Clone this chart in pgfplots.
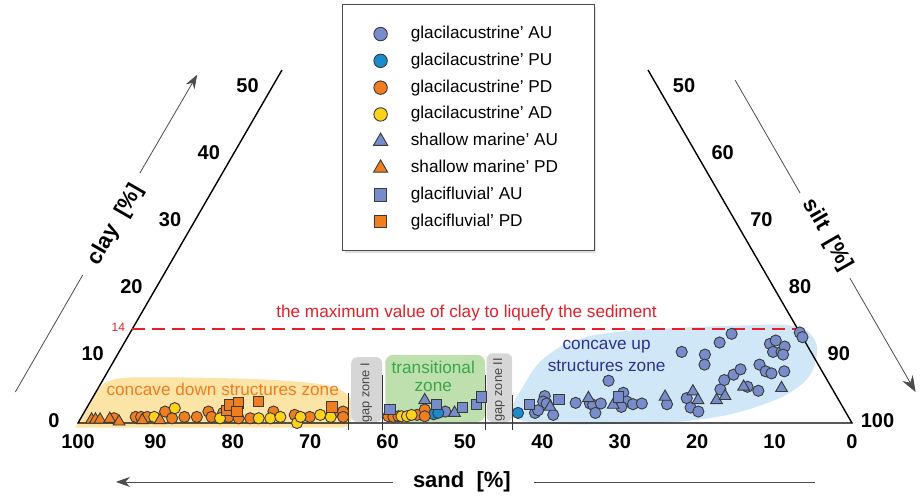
\documentclass[border=0pt]{standalone}
\usepackage{fontspec}
\setmainfont{Liberation Sans}
\usepackage{pgfplots}
\usepackage{pgfplotstable}
\pgfplotsset{compat=1.18}
\usetikzlibrary{arrows.meta,shadows}

\definecolor{auBlue}{HTML}{778DCB}
\definecolor{puBlue}{HTML}{1B8BCF}
\definecolor{pdOrange}{HTML}{F07E1E}
\definecolor{adYellow}{HTML}{FFD21A}
\definecolor{edge}{HTML}{3A3A3A}
\definecolor{zoneYellow}{HTML}{FCE3A6}
\definecolor{zoneGreen}{HTML}{BEDFAE}
\definecolor{zoneBlue}{HTML}{CFE7F7}
\definecolor{zoneGray}{HTML}{D6D6D6}
\definecolor{txtOrange}{HTML}{F07E1E}
\definecolor{txtGreen}{HTML}{3AA848}
\definecolor{txtBlue}{HTML}{2E3192}
\definecolor{limRed}{HTML}{E5202A}

% sample compositions: sand and clay in per cent (silt = 100 - sand - clay)
\pgfplotstableread{
sand clay
51.7 1.7
40.2 1.5
39.6 1.9
37.7 4.0
38.3 3.2
38.0 2.9
38.0 1.2
34.2 3.0
32.4 2.9
32.1 2.7
32.4 1.5
31.0 2.9
28.3 6.3
27.3 4.5
27.5 3.2
28.6 2.4
26.9 2.8
25.7 2.9
22.5 2.8
16.7 10.6
19.5 3.7
19.7 2.3
19.0 1.7
13.9 10.2
14.7 8.7
11.1 12.0
8.9 13.3
14.5 5.0
13.3 6.4
11.7 7.2
10.4 8.0
10.8 5.4
9.7 4.8
7.6 8.7
7.3 7.7
6.7 7.4
4.9 7.7
4.7 11.8
3.7 12.3
4.9 10.6
3.8 10.6
3.0 11.4
3.8 10.2
0.0 13.5
0.0 12.8
}\glAU

\pgfplotstableread{
sand clay
53.4 1.3
52.7 1.5
42.4 1.5
}\glPU

\pgfplotstableread{
sand clay
95.0 0.7
92.1 0.9
91.4 0.9
90.6 0.9
87.9 1.7
87.5 0.7
85.8 0.9
84.2 0.9
82.3 1.7
82.3 0.9
80.5 1.5
80.1 0.9
78.9 0.7
77.4 0.7
73.9 1.7
71.4 1.2
69.6 0.9
66.3 1.5
64.9 1.7
65.3 0.9
59.4 1.0
58.8 0.9
58.1 1.0
55.6 1.2
54.2 2.0
54.7 1.0
}\glPD

\pgfplotstableread{
sand clay
89.7 0.9
86.4 2.2
81.3 0.7
76.3 0.7
74.8 0.7
73.4 0.9
71.7 0.0
70.8 0.9
68.1 1.2
66.9 0.9
57.7 1.0
57.0 1.0
56.3 1.2
}\glAD

\pgfplotstableread{
sand clay
53.5 3.4
50.6 1.5
37.8 2.4
32.2 3.7
29.5 2.7
22.2 3.9
18.2 4.7
18.2 3.4
15.8 3.4
14.4 4.0
11.3 5.4
6.5 5.2
}\smAU

\pgfplotstableread{
sand clay
98.0 0.5
97.5 0.5
96.9 0.5
95.6 0.6
94.6 0.2
91.5 0.4
89.2 0.4
}\smPD

\pgfplotstableread{
sand clay
58.7 2.0
52.3 2.8
49.2 2.3
47.1 2.8
45.9 3.9
40.3 2.8
36.1 3.5
28.2 3.9
}\gfAU

\pgfplotstableread{
sand clay
79.8 1.9
79.0 2.7
77.8 3.0
78.6 1.7
75.1 3.2
66.0 2.4
}\gfPD

% ternary placement: horizontal = sand + clay/2 (reversed axis), vertical = clay * sin 60
\pgfplotsset{
  /pgfplots/table/tern/.style={x expr=\thisrow{sand}+0.5*\thisrow{clay}, y expr=0.8660254*\thisrow{clay}},
  pt/.style={only marks, draw=edge, line width=0.45pt},
}

\begin{document}
\begin{tikzpicture}[
  ticklab/.style={font=\bfseries\fontsize{10}{12}\selectfont},
  axtitle/.style={font=\bfseries\fontsize{11}{13}\selectfont},
  zonetxt/.style={font=\fontsize{8.6}{10.5}\selectfont, align=center},
  gaptxt/.style={black!72, rotate=90, font=\fontsize{6.4}{7}\selectfont},
  guide/.style={draw=black!70, line width=0.4pt},
]
\begin{axis}[
  x=3.87pt, y=3.87pt, x dir=reverse,
  xmin=-8.79, xmax=110.08, ymin=-9.56, ymax=54.65,
  enlargelimits=false, hide axis, clip=false, set layers,
  legend cell align=left,
  legend image code/.code={\draw[mark repeat=1,#1,mark options={scale=1.2}] plot coordinates {(0pt,0pt)};},
  legend style={
    at={(axis cs:65.9,54.1)}, anchor=north west,
    draw=black!70, line width=0.6pt, fill=white,
    font=\fontsize{8.6}{10}\selectfont,
    inner xsep=15.5pt, inner ysep=7.9pt, row sep=0pt,
    nodes={text height=6.3pt, text depth=1.9pt, inner sep=2.6pt},
    /tikz/every odd column/.append style={column sep=9pt},
    drop shadow={shadow xshift=1pt, shadow yshift=-1pt, opacity=0.25},
  },
]

% structure zones
\begin{pgfonlayer}{axis background}
  \fill[zoneYellow] (100.35,-0.6) -- (97.63,4.1) .. controls (96.6,5.6) and (95,5.9) .. (92,5.9)
     .. controls (80,5.9) and (72,5.6) .. (68,4.9) .. controls (65.5,4.4) and (64.5,3.4) .. (64.5,1.8)
     .. controls (64.5,0) and (65,-0.6) .. (66,-0.6) -- cycle;
  \fill[zoneBlue] plot[smooth cycle, tension=0.7] coordinates {(43.8,1.2) (42.2,5.2) (39.5,8.6) (35,10.9)
     (29,11.9) (22,12.3) (14,12.6) (8,12.6) (5.2,11.3) (4.6,8.5) (6.5,5) (12,2.2) (20,0.4) (30,-0.1) (40,0.0)};
  \fill[zoneGreen, rounded corners=4pt] (60.3,0.13) rectangle (47.4,8.8);
  \fill[zoneGray, rounded corners=3pt] (64.7,0.13) rectangle (60.7,8.5);
  \fill[zoneGray, rounded corners=3pt] (47.2,0.13) rectangle (43.9,9.0);
\end{pgfonlayer}

% triangle frame (open above 50 % clay)
\draw[line width=0.7pt] (73.65,45.6) -- (100,0) -- (0,0) -- (26.35,45.6);

% gap-zone boundaries
\draw[black!80, line width=0.5pt] (65.0,3.9) -- (65.0,-0.9);
\draw[black!80, line width=0.5pt] (60.6,6.2) -- (60.6,-0.9);
\draw[black!80, line width=0.5pt] (47.3,6.2) -- (47.3,-0.9);
\draw[black!80, line width=0.5pt] (43.8,3.6) -- (43.8,-0.9);

% liquefaction limit at 14 % clay
\draw[limRed, line width=1pt, dash pattern=on 6.5pt off 3.5pt] (93,12.12) -- (7,12.12);
\node[limRed, font=\fontsize{6}{7}\selectfont] at (94.8,12.4) {14};
\node[limRed, zonetxt] at (49.8,14.2) {the maximum value of clay to liquefy the sediment};

% zone labels
\node[txtOrange, zonetxt] at (81.3,4.4) {concave down structures zone};
\node[txtGreen, zonetxt] at (54.1,7.2) {transitional};
\node[txtGreen, zonetxt] at (54.1,4.65) {zone};
\node[txtBlue, zonetxt] at (31.7,9.86) {concave up};
\node[txtBlue, zonetxt] at (31.7,7.36) {structures zone};
\node[gaptxt] at (62.75,3.9) {gap zone I};
\node[gaptxt] at (45.6,4.3) {gap zone II};

% tick labels on the three sides
\pgfplotsinvokeforeach{0,10,...,100}{\node[ticklab] at (axis cs:#1,-2.4) {#1};}
\pgfplotsinvokeforeach{0,10,...,50}{\node[ticklab] at (axis cs:{103.1-#1/2},{0.8660254*#1+0.3}) {#1};}
\pgfplotsinvokeforeach{50,60,...,100}{\node[ticklab] at (axis cs:{(100-#1)/2-3.3},{0.8660254*(100-#1)+0.3}) {#1};}

% axis titles with direction arrows
\node[axtitle] at (50.4,-7.62) {sand\ \ [\%]};
\draw[guide] (4.8,-7.62) -- (41.1,-7.62);
\draw[guide, -{Stealth[length=7pt, width=5pt]}] (59.3,-7.62) -- (95.1,-7.62);
\node[axtitle, rotate=60] at (95.1,25.6) {clay\ \ [\%]};
\draw[guide] (108.1,4.0) -- (99.4,19.1);
\draw[guide, -{Stealth[length=7pt, width=5pt]}] (92.0,32.3) -- (84.6,45.0);
\node[axtitle, rotate=-60] at (3.17,24.3) {silt\ \ [\%]};
\draw[guide] (15.1,44.3) -- (6.7,29.7);
\draw[guide, -{Stealth[length=8pt, width=6pt]}] (0.26,18.7) -- (-8.22,4.0);

% samples
\addplot[pt, mark=*, mark size=2.8pt, fill=auBlue] table[tern] {\glAU};
\addlegendentry{glacilacustrine' AU}
\addplot[pt, mark=*, mark size=2.8pt, fill=puBlue] table[tern] {\glPU};
\addlegendentry{glacilacustrine' PU}
\addplot[pt, mark=*, mark size=2.8pt, fill=pdOrange] table[tern] {\glPD};
\addlegendentry{glacilacustrine' PD}
\addplot[pt, mark=*, mark size=2.8pt, fill=adYellow] table[tern] {\glAD};
\addlegendentry{glacilacustrine' AD}
\addplot[pt, mark=triangle*, mark size=3.4pt, fill=auBlue] table[tern] {\smAU};
\addlegendentry{shallow marine' AU}
\addplot[pt, mark=triangle*, mark size=3.4pt, fill=pdOrange] table[tern] {\smPD};
\addlegendentry{shallow marine' PD}
\addplot[pt, mark=square*, mark size=2.6pt, fill=auBlue] table[tern] {\gfAU};
\addlegendentry{glacifluvial' AU}
\addplot[pt, mark=square*, mark size=2.6pt, fill=pdOrange] table[tern] {\gfPD};
\addlegendentry{glacifluvial' PD}

\path (rel axis cs:0,0) rectangle (rel axis cs:1,1);
\end{axis}
\end{tikzpicture}
\end{document}
